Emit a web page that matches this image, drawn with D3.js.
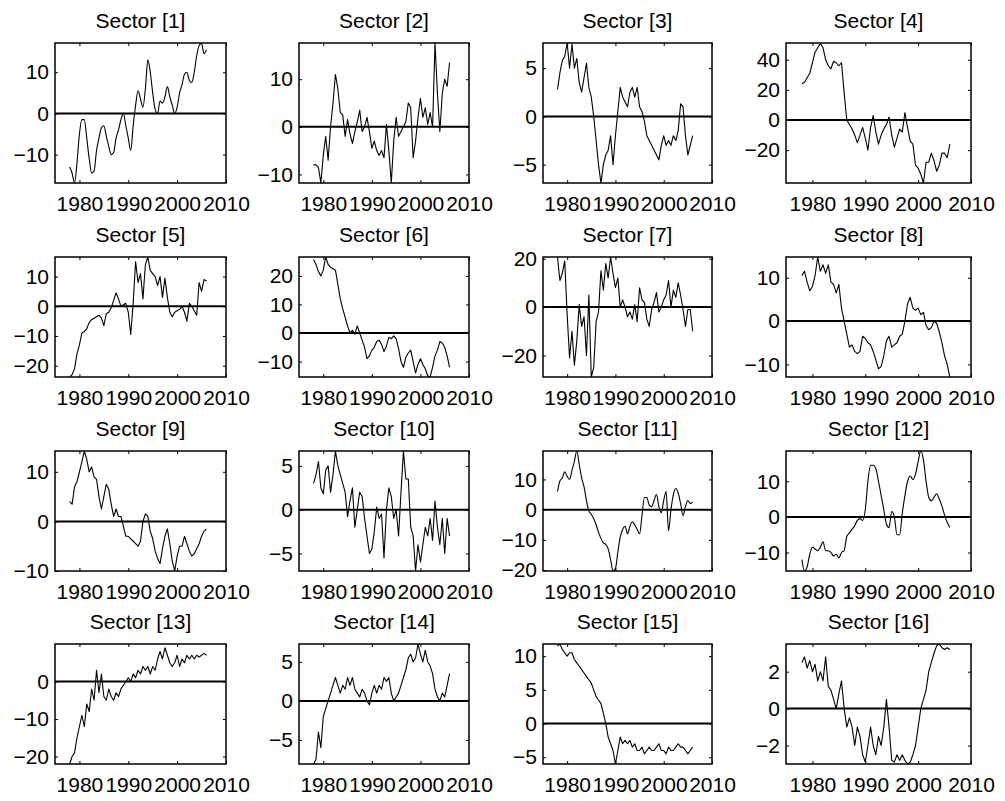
<!DOCTYPE html>
<html>
<head>
<meta charset="utf-8">
<script src="https://cdn.jsdelivr.net/npm/d3@7"></script>
<style>
  body { margin: 0; background: #fff; }
  svg text { font-family: "Liberation Sans", Arial, Helvetica, sans-serif; fill: #000; }
</style>
</head>
<body>
<svg id="fig" width="1005" height="801"></svg>
<script>
// half-year sampling of the series
var years = [1978,1978.5,1979,1979.5,1980,1980.5,1981,1981.5,1982,1982.5,
  1983,1983.5,1984,1984.5,1985,1985.5,1986,1986.5,1987,1987.5,
  1988,1988.5,1989,1989.5,1990,1990.5,1991,1991.5,1992,1992.5,
  1993,1993.5,1994,1994.5,1995,1995.5,1996,1996.5,1997,1997.5,
  1998,1998.5,1999,1999.5,2000,2000.5,2001,2001.5,2002,2002.5,
  2003,2003.5,2004,2004.5,2005,2005.5,2006];

var sector1 = [-13,-14.5,-16.9,-12,-5,-1.5,-1.5,-6,-11,-14.5,
  -14,-9,-6,-3.5,-3,-5.5,-8,-10,-9.5,-6,
  -4,-1.5,0,-3,-6,-9,-3,2,5.5,3.5,
  1.5,6,13,10,5,1,0,3,2.5,4,
  6.5,4,2,0,1.5,5,7,9.5,10,8,
  7.5,10,14,16.5,17,14.5,15.5];
var sector2 = [-8,-8,-8.5,-11.8,-6,-2,-7,0,5,11,
  8,3,2.5,-2,1.5,-1.5,-3.5,-1,1,3.5,
  -1,0,2,-1,-4.5,-3,-5,-6,-5,-6.5,
  0.5,-5,-11.8,-3,2,-2,-1,0,1,5,
  4,-6.5,-3,2,6,2,4,0.5,3,0,
  17.6,7,-1,7,10,8.5,13.5];
var sector3 = [2.8,4.5,5.8,6.2,7.6,5,7.5,5,6,3.5,
  2.5,4,5.5,3,2,0,-2.5,-5,-6.9,-5,
  -4,-3.5,-2,-5,-2,0.5,3,2,1.5,1,
  2.5,3,2,3,1,0.5,-0.5,-2,-2.5,-3,
  -3.5,-4,-4.5,-3,-2,-3,-2.5,-3,-2,-2.5,
  -1.5,1.3,1,-2,-4,-3,-2];
var sector4 = [24,25,28,31,38,45,48,51,48,40,
  36,34,39,38,36,38,18,0,-3,-6,
  -10,-15,-10,-5,-12,-20,-5,3,-8,-16,
  -10,-6,-3,2,-10,-18,-12,-6,-8,5,
  -5,-14,-16,-30,-32,-36,-41.8,-28,-28,-22,
  -27,-34,-30,-22,-22,-25,-16];
var sector5 = [-23.8,-23,-21,-16,-13,-9,-8.5,-7.5,-5.5,-4.5,
  -4,-3.5,-3,-4,-6.5,-2.5,-2,-0.5,2,4.5,
  2.5,0,0.5,1,-2,-9.5,1,15,8,11,
  2.5,14,16.6,12,11,10,7,10,3,9.5,
  3,-2,-3.5,-2,-1.5,-1,0,-2,-5,1,
  0,-1.5,-3,8,5,9,8.5];
var sector6 = [25.7,24,21.5,20,22,26.6,24,23,22.5,22,
  17,12,8.5,5.5,2.5,0,1,-0.5,2.5,0,
  -2.5,-5,-9,-8,-6,-5,-3,-2.5,-4,-6.5,
  -4.5,-1.5,-2,-1,-2,-5.5,-10,-12,-8.5,-7,
  -6,-10,-14,-11,-9,-11,-12.5,-15,-15.4,-12,
  -8,-6,-3,-3.5,-5,-8,-12];
var sector7 = [20.7,11,14,19,-3,-21,-10,-24,-14,1,
  -8,-4,-20,5,-28.9,-25,-6,-2,15,7,
  18,12,20.7,14,8,12,0,3,0,-4,
  -2,-5,1,-6,8,3,2,-5,-8,-1,
  2,6,-2,0,3,5,11,0,7,4,
  10,5,-1,-8,-1,-1,-10];
var sector8 = [10.5,11.5,9,7,8,10.5,14.8,11.5,13,11,
  13,9,8.5,6.5,8.5,3,0,-3,-6,-5.5,
  -7,-7.5,-7,-3.5,-4,-5,-5.5,-7,-9,-11,
  -10.5,-8,-4.5,-3.5,-6,-5.5,-5,-3.5,-3,0,
  4,5.5,3,2.5,3,1.5,2,-1,-2,-1.5,
  0,-0.5,-2.5,-5,-8,-10,-12.9];
var sector9 = [4,3.5,7,8,10,12,14.2,12.5,10,11,
  9,8.5,5,2.5,5,7.5,6.5,3.5,1,2.5,
  1,1,-1,-3,-3,-3.5,-4,-4.5,-5,-4,
  0,1.5,1,-2,-3.5,-6,-7.5,-8.5,-5.5,-3,
  -1.5,-4.5,-8,-10,-7,-5,-5,-3,-4.5,-6,
  -7,-6.5,-5.5,-4.5,-3,-2,-1.5];
var sector10 = [3,4,5.5,2.5,1.8,4.5,5,2,4,6.7,
  5,4,3,2,-0.8,1,2.5,-2,0,2,
  1.5,-1,-3,-5,-4.5,-2.5,0.3,-1,-0.5,-5.5,
  0,2.5,1.5,-1,0,-3,2,6.7,3.5,3.5,
  -2,-3,-7,-4,-6,-4,-2,-3,-1,-3.5,
  1,-2,-4,-1,-5,-1,-3];
var sector11 = [6,9.5,10.5,12.5,11,10,13,16,19.4,15,
  10.5,7.5,3,-0.5,-1.5,-3,-5,-7.5,-9.5,-11,
  -11.5,-13,-16.5,-20.3,-19.5,-14,-9,-6.5,-5.5,-8,
  -5.5,-4,-5,-6.5,-8,-2,4,4,1.5,1,
  3,5,1,-1,3,6,-7,0,5,7,
  5.5,2,-2,1,3,2,2.5];
var sector12 = [-12,-15.2,-14,-10.5,-8.5,-9,-9.5,-8.5,-7,-9.5,
  -9.5,-10,-11,-10.5,-11.5,-10,-9.5,-5.5,-4.5,-3.5,
  -2.5,-1,-0.5,-1,2,10,14.5,14.5,13.5,10,
  6,2,-2,-3,1.5,0,-5,-5,1,6,
  10,11.5,10.5,12,15.5,18.5,16,10,5.5,4.5,
  5.5,6.5,5,3,0.5,-1.5,-3];
var sector13 = [-22,-20,-19,-15,-12,-9,-12,-6,-8,-2,
  -5,3,-3,2,-4,-5,-2,-4,-5,-3,
  -4,-2,-1,0,1,0,2,1,3,2,
  4,3,4,2,4,3,6,8,6,9,
  7,5,4,5,7,4,6,5,7,6,
  7,6,7,6.5,7,7.5,7];
var sector14 = [-8.1,-7.5,-4,-6,-2,-1,0,1,2,3,
  2,1,2,1.5,3,2,3,1.5,1,0.5,
  1.5,1,0,-0.5,1,2,1,2,1.5,3,
  2.5,3,1,0,0.5,1,2,3,4,5.5,
  6,5,5.5,7.3,6,5,6.5,5,4.5,3.5,
  1.5,0.5,0,1,0.5,2,3.5];
var sector15 = [11.5,11.8,11,10.5,10,10.5,10.5,9.5,9,8.5,
  8,7.5,7,6.5,6,5,4,3.5,3,1.5,
  0,-2,-3,-4,-6,-4,-2,-3,-2.5,-3,
  -2.5,-3.5,-3,-4,-4,-3.5,-4.5,-4,-3.5,-4,
  -4,-3.5,-3,-4,-4,-4.5,-3.5,-4,-4,-3.5,
  -3,-3.5,-3.5,-4,-4.5,-4,-3.5];
var sector16 = [2.5,2.8,2.2,2.6,2,2.4,1.5,2,1.5,2.8,
  1.2,1,0.5,0,0.8,1.5,0,-1,-0.5,-1,
  -2,-1,-1.5,-2.5,-2.9,-2,-1,-2,-2.5,-1.5,
  -2,-1,0.5,-1,-2.8,-2.9,-2.5,-2.8,-2.5,-2.8,
  -3.0,-2.9,-2.5,-2,-1,0,0.5,1,2,2.5,
  3,3.4,3.5,3.3,3.2,3.3,3.2];

var series = [sector1, sector2, sector3, sector4, sector5, sector6, sector7, sector8,
  sector9, sector10, sector11, sector12, sector13, sector14, sector15, sector16];

// y axis limits (axis tight) and tick values for each panel
var yLow  = [-16.9, -11.8, -6.9, -41.8, -23.8, -15.4, -28.9, -12.9, -10.0, -7.0, -20.3, -15.2, -22, -8.1, -6, -3.0];
var yHigh = [17.1, 17.6, 7.6, 51.1, 16.6, 26.6, 20.7, 14.8, 14.2, 6.7, 19.4, 18.5, 10, 7.3, 11.8, 3.5];
var yTicks = [[-10,0,10], [-10,0,10], [-5,0,5], [-20,0,20,40],
  [-20,-10,0,10], [-10,0,10,20], [-20,0,20], [-10,0,10],
  [-10,0,10], [-5,0,5], [-20,-10,0,10], [-10,0,10],
  [-20,-10,0], [-5,0,5], [-5,0,5,10], [-2,0,2]];
var xTicks = [1980, 1990, 2000, 2010];
var xDomain = [1975, 2010];

// panel geometry
var colX = [55, 299, 543, 786], colW = [171, 170, 169, 185];
var rowY = [43, 257, 451, 644], rowH = [140, 120, 120, 120];
var fontSize = 21;
var tick = 3;

var svg = d3.select('#fig');
var fmt = d3.format('d');

series.forEach(function (vals, i) {
  var r = Math.floor(i / 4), c = i % 4;
  var w = colW[c], h = rowH[r];
  var g = svg.append('g')
    .attr('transform', 'translate(' + colX[c] + ',' + rowY[r] + ')');

  var x = d3.scaleLinear().domain(xDomain).range([0, w]);
  var y = d3.scaleLinear().domain([yLow[i], yHigh[i]]).range([h, 0]);

  g.append('clipPath').attr('id', 'clip' + i)
    .append('rect').attr('width', w).attr('height', h);

  // axes with inward ticks
  g.append('g')
    .call(d3.axisLeft(y).tickValues(yTicks[i]).tickSize(-tick).tickSizeOuter(0).tickPadding(6).tickFormat(fmt));
  g.append('g').attr('transform', 'translate(' + w + ',0)')
    .call(d3.axisRight(y).tickValues(yTicks[i]).tickSize(-tick).tickSizeOuter(0).tickFormat(''));
  g.append('g').attr('transform', 'translate(0,' + h + ')')
    .call(d3.axisBottom(x).tickValues(xTicks).tickSize(-tick).tickSizeOuter(0).tickPadding(13).tickFormat(fmt));
  g.append('g')
    .call(d3.axisTop(x).tickValues(xTicks).tickSize(-tick).tickSizeOuter(0).tickFormat(''));

  g.selectAll('.domain').remove();
  g.selectAll('.tick line').attr('stroke', '#000').attr('stroke-width', 1);
  g.selectAll('.tick text')
    .style('font-size', fontSize + 'px')
    .style('font-family', '"Liberation Sans", Arial, Helvetica, sans-serif')
    .attr('fill', '#000');

  // zero line
  g.append('line')
    .attr('x1', 0).attr('x2', w)
    .attr('y1', y(0)).attr('y2', y(0))
    .attr('stroke', '#000').attr('stroke-width', 2);

  // data line
  var line = d3.line()
    .x(function (d, k) { return x(years[k]); })
    .y(function (d) { return y(d); });
  if (i === 0 || i === 10 || i === 11) line.curve(d3.curveMonotoneX);

  g.append('path')
    .datum(vals)
    .attr('clip-path', 'url(#clip' + i + ')')
    .attr('fill', 'none')
    .attr('stroke', '#000')
    .attr('stroke-width', 1.1)
    .attr('stroke-linejoin', 'round')
    .attr('d', line);

  // box
  g.append('rect')
    .attr('width', w).attr('height', h)
    .attr('fill', 'none').attr('stroke', '#000').attr('stroke-width', 1.5);

  // title
  g.append('text')
    .attr('x', w / 2).attr('y', -15)
    .attr('text-anchor', 'middle')
    .style('font-size', fontSize + 'px')
    .text('Sector [' + (i + 1) + ']');
});
</script>
</body>
</html>
